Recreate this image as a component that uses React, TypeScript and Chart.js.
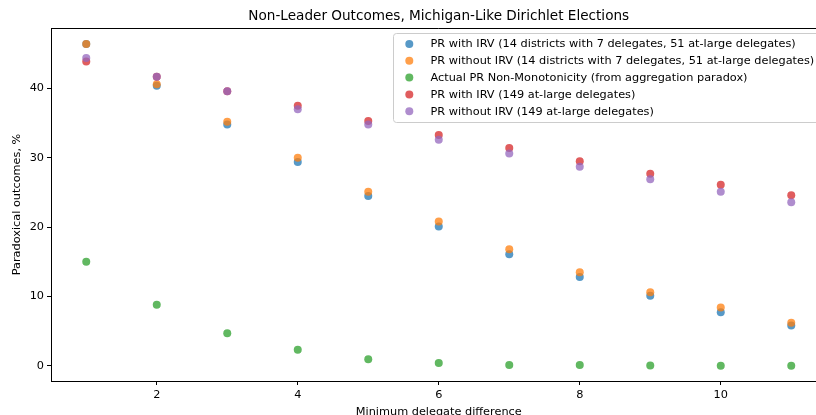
import React, { useEffect, useRef } from "react";
import { Chart, registerables } from "chart.js";

Chart.register(...registerables);

// Minimum delegate difference (x) and paradoxical-outcome rates in percent (y)
const minDelegateDiff = [1, 2, 3, 4, 5, 6, 7, 8, 9, 10, 11];
const prIrvDistricts = [46.4, 40.4, 34.8, 29.4, 24.5, 20.1, 16.1, 12.8, 10.1, 7.7, 5.8];
const prNoIrvDistricts = [46.4, 40.6, 35.2, 30.0, 25.1, 20.8, 16.8, 13.5, 10.6, 8.4, 6.2];
const actualNonMonotonicity = [15.0, 8.8, 4.7, 2.3, 0.95, 0.4, 0.1, 0.1, 0.05, 0.0, 0.0];
const prIrvAtLarge = [43.9, 41.7, 39.6, 37.5, 35.3, 33.3, 31.4, 29.5, 27.7, 26.1, 24.6];
const prNoIrvAtLarge = [44.4, 41.7, 39.6, 37.0, 34.8, 32.6, 30.6, 28.7, 26.9, 25.1, 23.6];

const seriesLabels = [
  "PR with IRV (14 districts with 7 delegates, 51 at-large delegates)",
  "PR without IRV (14 districts with 7 delegates, 51 at-large delegates)",
  "Actual PR Non-Monotonicity (from aggregation paradox)",
  "PR with IRV (149 at-large delegates)",
  "PR without IRV (149 at-large delegates)",
];
const seriesValues = [prIrvDistricts, prNoIrvDistricts, actualNonMonotonicity, prIrvAtLarge, prNoIrvAtLarge];
const seriesColors = [
  "rgba(31,119,180,0.75)",
  "rgba(255,127,14,0.75)",
  "rgba(44,160,44,0.75)",
  "rgba(214,39,40,0.75)",
  "rgba(148,103,189,0.75)",
];

const xTicks = [2, 4, 6, 8, 10];
const yTicks = [0, 10, 20, 30, 40];

const titleText = "Non-Leader Outcomes, Michigan-Like Dirichlet Elections";
const xTitle = "Minimum delegate difference";
const yTitle = "Paradoxical outcomes, %";

const FONT = '"DejaVu Sans", sans-serif';
const TITLE_SIZE = 13.6;
const TEXT_SIZE = 11.3;
const POINT_R = 4;

const decorPlugin = {
  id: "decor",
  afterDraw(chart: any) {
    const { ctx, chartArea } = chart;
    const { left, right, top, bottom } = chartArea;
    ctx.save();

    // top and right spines
    ctx.strokeStyle = "#000";
    ctx.lineWidth = 1;
    ctx.beginPath();
    const ty = Math.round(top) + 0.5;
    ctx.moveTo(left, ty);
    ctx.lineTo(right, ty);
    const rx = Math.round(right) + 0.5;
    ctx.moveTo(rx, top);
    ctx.lineTo(rx, bottom);
    ctx.stroke();

    // title
    ctx.fillStyle = "#000";
    ctx.font = `${TITLE_SIZE}px ${FONT}`;
    ctx.textAlign = "center";
    ctx.textBaseline = "middle";
    const cx = (left + right) / 2;
    ctx.fillText(titleText, cx, 16.5);

    // axis titles
    ctx.font = `${TEXT_SIZE}px ${FONT}`;
    ctx.fillText(xTitle, cx, 412);
    ctx.save();
    ctx.translate(17, (top + bottom) / 2);
    ctx.rotate(-Math.PI / 2);
    ctx.fillText(yTitle, 0, 0);
    ctx.restore();

    // legend
    const boxL = 393.5;
    const boxT = 33.5;
    const boxR = right - 5;
    const rowH = 16.8;
    const boxB = boxT + 89;
    const rad = 3;
    ctx.beginPath();
    ctx.moveTo(boxL + rad, boxT);
    ctx.lineTo(boxR - rad, boxT);
    ctx.arcTo(boxR, boxT, boxR, boxT + rad, rad);
    ctx.lineTo(boxR, boxB - rad);
    ctx.arcTo(boxR, boxB, boxR - rad, boxB, rad);
    ctx.lineTo(boxL + rad, boxB);
    ctx.arcTo(boxL, boxB, boxL, boxB - rad, rad);
    ctx.lineTo(boxL, boxT + rad);
    ctx.arcTo(boxL, boxT, boxL + rad, boxT, rad);
    ctx.closePath();
    ctx.fillStyle = "rgba(255,255,255,0.8)";
    ctx.fill();
    ctx.strokeStyle = "#cccccc";
    ctx.stroke();

    ctx.textAlign = "left";
    ctx.textBaseline = "middle";
    chart.data.datasets.forEach((ds: any, i: number) => {
      const y = 44 + i * rowH;
      ctx.beginPath();
      ctx.arc(409.3, y, POINT_R, 0, Math.PI * 2);
      ctx.fillStyle = ds.backgroundColor;
      ctx.fill();
      ctx.fillStyle = "#000";
      ctx.fillText(ds.label, 430.5, y + 0.5);
    });

    ctx.restore();
  },
};

export default function App() {
  const canvasRef = useRef<HTMLCanvasElement | null>(null);

  useEffect(() => {
    if (!canvasRef.current) return;
    const datasets = seriesLabels.map((label, i) => ({
      label,
      data: minDelegateDiff.map((x, j) => ({ x, y: seriesValues[i][j] })),
      backgroundColor: seriesColors[i],
      borderColor: seriesColors[i],
      borderWidth: 0,
      pointRadius: POINT_R,
      pointHoverRadius: POINT_R,
      order: seriesLabels.length - 1 - i,
    }));

    const chart = new Chart(canvasRef.current, {
      type: "scatter",
      data: { datasets },
      plugins: [decorPlugin],
      options: {
        animation: false,
        responsive: false,
        devicePixelRatio: 1,
        layout: { padding: { left: 0, top: 28, right: 13.5, bottom: 0 } },
        plugins: {
          legend: { display: false },
          title: { display: false },
          tooltip: { enabled: false },
        },
        scales: {
          x: {
            type: "linear",
            min: 0.5,
            max: 11.5,
            afterBuildTicks: (scale: any) => {
              scale.ticks = xTicks.map((v) => ({ value: v }));
            },
            afterFit: (scale: any) => {
              scale.height = 34;
            },
            grid: { display: true, drawOnChartArea: false, drawTicks: true, tickLength: 4, color: "#000" },
            border: { display: true, color: "#000", width: 1 },
            ticks: {
              autoSkip: false,
              maxRotation: 0,
              padding: 3,
              color: "#000",
              font: { family: FONT, size: TEXT_SIZE },
            },
          },
          y: {
            type: "linear",
            min: -2.2,
            max: 48.72,
            afterBuildTicks: (scale: any) => {
              scale.ticks = yTicks.map((v) => ({ value: v }));
            },
            afterFit: (scale: any) => {
              scale.width = 51;
            },
            grid: { display: true, drawOnChartArea: false, drawTicks: true, tickLength: 4, color: "#000" },
            border: { display: true, color: "#000", width: 1 },
            ticks: {
              autoSkip: false,
              padding: 3,
              color: "#000",
              font: { family: FONT, size: TEXT_SIZE },
            },
          },
        },
      },
    } as any);

    return () => chart.destroy();
  }, []);

  return (
    <div
      style={{
        position: "fixed",
        left: 0,
        top: 0,
        width: 816,
        height: 415,
        overflow: "hidden",
        background: "#fff",
      }}
    >
      <canvas ref={canvasRef} width={840} height={415} style={{ display: "block" }} />
    </div>
  );
}
